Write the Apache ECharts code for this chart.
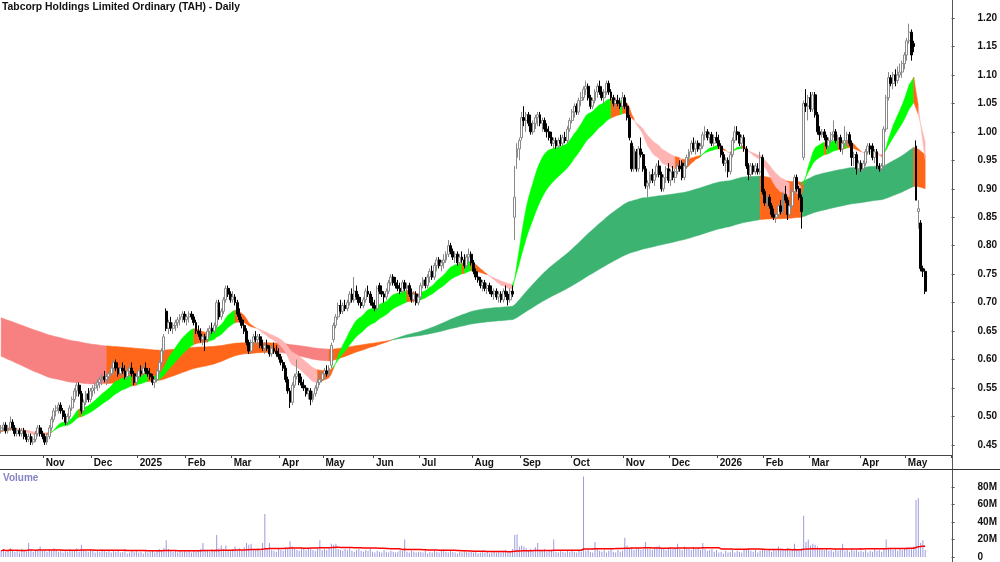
<!DOCTYPE html>
<html>
<head>
<meta charset="utf-8">
<title>TAH - Daily</title>
<script src="https://cdn.jsdelivr.net/npm/echarts@6/dist/echarts.min.js"></script>
<style>
  html, body { margin: 0; padding: 0; background: #fff; }
  #chart { width: 1000px; height: 562px; }
</style>
</head>
<body>
<div id="chart"></div>
<script>
// daily bars in cents: [open, high, low, close], one array per month
const oct24 = [[47.5,48.5,47,48],[48,49,47.5,48.5],[48.5,49,47,47.5],[47.5,48.5,47,48],[48,50,47.5,49],[49,49.5,47.5,48],[48,48.5,46.5,47],[47,48,46.5,47.5],[47.5,48,46.5,47],[47,48,46.5,47.5],[47.5,48,46,46.5],[46.5,47,45.5,46],[46,47,45.5,46.5],[46.5,47,45,45.5],[45.5,46.5,45,46],[46,47.5,45.5,47],[47,48.5,46.5,48],[48,48.5,46.5,47],[47,47.5,46,46.5]];
const nov24 = [[46.5,47,45,45.5],[45.5,47,45,46.5],[46.5,48.5,46,48],[48,50,47.5,49.5],[49.5,51.5,49,51],[51,52,50,51.5],[51.5,52.5,50.5,52],[52,52.5,50.5,51],[51,51.5,49.5,50],[50,50.5,48.5,49],[49,50.5,48.5,50],[50,52,49.5,51.5],[51.5,53.5,51,53],[53,55,52.5,54.5],[54.5,56,53.5,55.5],[55.5,56,53.5,54],[54,54.5,50.5,51],[51,53,50.5,52.5],[52.5,54.5,52,54],[54,55,52.5,53],[53,55,52.5,54.5]];
const dec24 = [[54.5,55.5,53.5,55],[55,56,54,55.5],[55.5,56.5,54.5,56],[56,57,55,56.5],[56.5,57.5,55.5,57],[57,58,56,56.5],[56.5,57.5,55.5,57],[57,58,56,57.5],[57.5,59,57,58.5],[58.5,60,57.5,59.5],[59.5,60,58,58.5],[58.5,59.5,57,57.5],[57.5,59,57,58.5],[58.5,59.5,57.5,58],[58,59,56.5,57],[57,58.5,56.5,58],[58,59,57.5,58.5],[58.5,59.5,57,57.5],[57.5,58,55.5,56],[56,57.5,55.5,57]];
const jan25 = [[57,58.5,56.5,58],[58,59,57,57.5],[57.5,59,57,58.5],[58.5,59.5,57.5,58],[58,58.5,57,57.5],[57.5,58.5,56.5,57],[57,57.5,55.5,56],[56,57,55,56.5],[56.5,58.5,56,58],[58,60,57.5,59.5],[59.5,62,59,61.5],[61.5,64.5,61,64],[68.5,69,65,65.5],[65.5,67,64.5,66.5],[66.5,67.5,65,65.5],[65.5,66.5,64.5,66],[66,67,65,66.5],[66.5,67.5,65.5,67],[67,68,66,67.5],[67.5,68.5,66.5,68],[68,68.5,66.5,67]];
const feb25 = [[67,68,66,67.5],[67.5,68.5,66.5,68],[68,68.5,67,67.5],[67.5,68,66,66.5],[66.5,67,64.5,65],[65,66,64,64.5],[64.5,65.5,63,63.5],[63.5,64.5,62.5,64],[64,64.5,61.5,63.5],[63.5,65.5,63,65],[65,66,64,65.5],[65.5,66.5,64.5,65],[65,66.5,64.5,66],[66,70.5,65.5,70],[70,70.5,67,67.5],[67.5,69,67,68.5],[68.5,71,68,70.5],[70.5,73,70,72.5],[72.5,73,71,71.5],[71.5,72,70,70.5]];
const mar25 = [[70.5,72,70,71],[71,71.5,69.5,70],[70,70.5,67.5,68],[68,69,66.5,67],[67,67.5,65.5,66],[66,67,64.5,65],[65,65.5,62.5,63],[63,63.5,61,61.5],[61.5,63.5,61,63],[63,64.5,62.5,64],[64,65,63,63.5],[63.5,64.5,62.5,64],[64,64.5,62,62.5],[62.5,63.5,61.5,62],[62,63,61,62.5],[62.5,63.5,61.5,62],[62,62.5,60.5,61],[61,62.5,60.5,62],[62,63,61,61.5],[61.5,62.5,60.5,61],[61,62,60,60.5]];
const apr25 = [[60.5,61,59,59.5],[59.5,60,58,58.5],[58.5,59,56,56.5],[56.5,57,54,54.5],[54.5,55,51.5,52.5],[52.5,56,52,55.5],[55.5,57.5,55,57],[57,60,56.5,57.5],[57.5,58,55.5,56],[56,57,55,55.5],[55.5,56.5,54.5,55],[55,55.5,53.5,54],[54,55,53,54.5],[54.5,55,52,53],[53,54.5,52.5,54],[54,55.5,53.5,55],[55,56.5,54.5,56],[56,57.5,55.5,56.5],[56.5,58,56,57.5]];
const may25 = [[57.5,58.5,56.5,58],[58,59,57,57.5],[57.5,59,57,58.5],[59,63,58.5,62.5],[63.5,66.5,63,66],[66,68,65.5,67.5],[67.5,70,67,69.5],[69.5,70.5,68,68.5],[68.5,70,68,69.5],[69.5,70.5,68.5,69],[69,70.5,68.5,70],[70,72,69.5,71.5],[71.5,72.5,70,70.5],[70.5,74.5,70,72],[72,73,70.5,71],[71,71.5,69.5,70],[70,71,69,69.5],[69.5,71,69,70.5],[70.5,72.5,70,72],[72,73,71,71.5],[71.5,72,69.5,70],[70,71,69,69.5]];
const jun25 = [[69.5,70.5,68.5,69],[69,73,68.5,72.5],[73,73.5,71.5,72],[72,73,71,71.5],[71.5,72,70,71],[71,72.5,70.5,72],[72,74,71.5,73.5],[73.5,75,73,74.5],[74.5,75,73,73.5],[73.5,74.5,72.5,73],[73,74,72,72.5],[72.5,73.5,71.5,72],[72,74,71.5,73.5],[73.5,74,72,72.5],[72.5,73.5,71.5,73],[73,73.5,71,71.5],[71.5,72.5,70,70.5],[70.5,72,70,71.5],[71.5,72,69.5,70],[70,71.5,69.5,71]];
const jul25 = [[71,73.5,70.5,73],[73,74.5,72.5,74],[74,74.5,72.5,73],[73,75,72.5,74.5],[74.5,76,73.5,75.5],[75.5,76.5,74,74.5],[74.5,77,74,76.5],[76.5,78,75.5,77.5],[77.5,78,76,76.5],[76.5,77.5,75.5,77],[77,78.5,76,77.5],[77.5,79,77,78.5],[78.5,81,78,80],[80,80.5,78.5,79],[79,79.5,77.5,78],[78,79,77,78.5],[78.5,79,76.5,77],[77,78.5,76.5,78],[78,79,77,77.5],[77.5,78.5,76,76.5],[76.5,78.5,76,78],[78,79.5,77,78.5],[78.5,79,76.5,77]];
const aug25 = [[77,77.5,75,75.5],[75.5,76,74,74.5],[74.5,75.5,73.5,74],[74,74.5,72.5,73],[73,74,72,73.5],[73.5,74,72,72.5],[72.5,73.5,71.5,73],[73,73.5,71.5,72],[72,73,71,71.5],[71.5,72.5,70.5,72],[72,72.5,70.5,71],[71,72,70,71.5],[71.5,72,70,70.5],[70.5,72.5,70,72],[72,73,71,71.5],[71.5,72,69.5,70.5],[70.5,72.5,70,72],[72,73,71,71.5],[85,94,81,88.5],[95.5,98,93.5,97],[97,99,95,98.5]];
const sep25 = [[99,103.5,98.5,102.5],[102.5,104.5,101,102],[102,103.5,100,103],[103,103.5,101,101.5],[101.5,103,99.5,100],[100,102,99.5,101.5],[101.5,103,100.5,102.5],[102.5,103.5,101,103],[103,103.5,101,101.5],[101.5,102.5,100,102],[102,102.5,100,100.5],[100.5,101.5,99,100],[100,101,98.5,99],[99,100,97.5,98],[98,99,97,98.5],[98.5,99,97,97.5],[97.5,99,97,98.5],[98.5,99.5,97.5,98],[98,99.5,97.5,99],[99,100,98,98.5],[98.5,101,98,100.5],[100.5,102.5,100,102]];
const oct25 = [[102,104,101.5,103.5],[103.5,105,102.5,104.5],[104.5,105,103,103.5],[103.5,106,103,105.5],[105.5,107,104.5,106],[106,108,105.5,107.5],[107.5,109,106.5,108],[108,108.5,105.5,106],[106,106.5,104,104.5],[104.5,106,104,105.5],[105.5,107.5,105,107],[107,108.5,106,108],[108,109,106.5,107],[107,108,105.5,106],[106,107.5,105,107],[107,109,106.5,108.5],[108.5,109,106.5,107],[107,107.5,105.5,106],[106,106.5,104.5,105],[105,106,104,105.5],[105.5,106.5,104.5,105],[105,106,104,104.5],[104.5,107,104,106]];
const nov25 = [[106,106.5,104,104.5],[104.5,105,102,102.5],[102.5,103,98.5,99],[98,98.5,93,93.5],[93.5,97.5,93,97],[96.5,97,93,93.5],[93.5,97.5,93,97],[97,99,95.5,96],[96,96.5,93,93.5],[93.5,94,90,90.5],[90.5,91.5,88.5,91],[91,93,90,92.5],[92.5,93.5,91,91.5],[91.5,93,90.5,92.5],[92.5,94.5,92,94],[94,95,92,92.5],[92.5,93,89.5,90],[90,92.5,89.5,92],[92,94,91,93.5],[93.5,94.5,91,91.5]];
const dec25 = [[91.5,93.5,90.5,93],[93,94,91.5,92],[92,93.5,91,93],[93,94.5,92.5,94],[94,95,93,93.5],[94.5,95,91.5,92],[92,94.5,91.5,94],[94,96,93.5,95.5],[95.5,97,94.5,96.5],[96.5,98.5,96,98],[98,99,96.5,97],[97,98.5,96,98],[98,98.5,96.5,97],[97,98,96,97.5],[97.5,100,97,99.5],[99.5,101,98.5,100],[100,100.5,98.5,99],[99,100,98,99.5],[99.5,100,97.5,98],[98,99.5,97.5,99],[99,100,98,98.5]];
const jan26 = [[98.5,99.5,97,97.5],[97.5,98,95.5,96],[96,96.5,94,94.5],[94.5,95.5,93,95],[95,95.5,92,93],[93,96.5,92.5,96],[96,99,95.5,98.5],[98.5,101,98,100],[100,101,98.5,99.5],[99.5,100,97.5,98],[98,99.5,97,99],[99,99.5,96.5,97],[97,97.5,93.5,94],[94,94.5,91.5,92.5],[92.5,94.5,92,94],[94,94.5,92.5,93],[93,94.5,92.5,94],[93.5,94.5,92.5,93],[93,96.5,92.5,95.5],[95.5,96,89,89.5]];
const feb26 = [[89.5,90,87,87.5],[87.5,89,86.5,88.5],[88.5,89,86.5,87],[87,87.5,85,85.5],[85.5,86.5,84.5,85],[85,86,84,85.5],[85.5,87.5,85,87],[87,88,85.5,86],[86,89.5,85.5,89],[89,90.5,87.5,88],[88,88.5,84.5,85.5],[85.5,87.5,85,87],[87,90,86.5,89.5],[89.5,92.5,89,92],[92,92.5,89.5,90],[90,90.5,88,88.5],[88.5,89,83,86],[95.5,105.5,95,105],[105,107.5,103.5,104.5],[104.5,106.5,102,106]];
const mar26 = [[106,107,103.5,104],[104,107,103.5,106.5],[106.5,107,102.5,103],[103,103.5,99.5,100],[100,101,98.5,99.5],[99.5,100.5,99,100],[100,100.5,98.5,99],[99,99.5,97,97.5],[97.5,99,96.5,98.5],[98.5,100,98,99.5],[99.5,102,99,100],[100,100.5,98,98.5],[98.5,99.5,97.5,99],[99,99.5,96.5,97],[97,98.5,96,98],[98,101,97.5,98.5],[98.5,100,97.5,99.5],[99.5,100,97.5,98],[98,98.5,94,95.5],[95.5,96.5,94,96],[96,96.5,92.5,93.5],[93.5,95,93,94.5]];
const apr26 = [[94.5,95,93,93.5],[93.5,95,93,94.5],[94.5,97,94,96.5],[96.5,98,96,97.5],[97.5,98,96,97],[97.5,98,95,95.5],[95.5,97,94.5,96.5],[96.5,97,93.5,94],[94,94.5,93,93.5],[93.5,94.5,93,94],[94,101,93.5,100.5],[100.5,106.5,100,106],[106,110.5,105.5,109.5],[109.5,110,108,108.5],[108.5,110.5,107.5,110],[110,111,108,109],[109,111.5,108.5,110],[110,112,109.5,110.5],[110.5,112.5,109.5,112],[112,114,111,113.5]];
const may26 = [[113.5,116.5,112.5,116],[116,119,115.5,117.5],[117.5,118,112.5,113.5],[115.5,116,114,115],[97.5,98.5,88,88],[86,88,83,86.5],[84,84.5,75.5,76],[76,76.5,74.5,75.5],[75.5,76,71.5,72]];

// daily volume, millions
const volOct24 = [7,9,6,8,10,7,6,8,5,9,7,6,16,8,6,7,9,12,7];
const volNov24 = [8,6,9,7,10,8,6,7,5,8,6,9,7,8,10,6,14,8,7,6,9];
const volDec24 = [7,5,8,6,9,7,6,8,5,7,6,8,5,6,9,4,5,7,6,8];
const volJan25 = [5,6,4,7,5,6,8,5,7,9,8,10,19,9,7,6,8,5,7,6,8];
const volFeb25 = [6,7,5,8,6,7,9,16,7,8,6,9,8,25,10,13,9,13,8,7];
const volMar25 = [9,12,8,10,7,11,16,14,15,9,8,10,7,16,49,9,16,8,7,6,9];
const volApr25 = [8,7,10,9,18,12,9,8,7,10,9,8,9,10,8,7,9,19,8];
const volMay25 = [9,8,10,15,14,15,9,8,7,9,8,10,7,6,8,9,7,6,8,7,9,6];
const volJun25 = [5,7,6,5,8,6,5,7,6,5,6,8,7,20,6,5,7,6,5,6];
const volJul25 = [6,5,7,4,6,5,7,6,5,8,9,6,5,7,6,5,4,6,5,7,6,5,6];
const volAug25 = [5,6,4,5,7,5,6,4,5,6,5,7,5,6,8,5,6,9,25,26,12];
const volSep25 = [13,12,10,8,9,7,11,16,8,7,9,6,8,7,20,6,5,7,6,5,8,6];
const volOct25 = [7,6,5,8,6,92,7,8,6,5,17,9,7,6,8,5,7,9,6,5,8,6,7];
const volNov25 = [22,13,9,11,8,9,10,8,9,17,10,9,8,11,12,13,9,10,8,9];
const volDec25 = [11,9,10,15,9,8,12,10,9,8,11,9,10,8,16,9,7,8,9,6,8];
const volJan26 = [5,6,4,7,5,6,8,5,7,6,5,9,8,10,7,6,8,5,7,9];
const volFeb26 = [8,7,9,6,8,7,12,9,8,7,10,8,9,15,8,7,10,47,17,20];
const volMar26 = [13,15,14,12,10,9,8,9,7,8,6,9,7,8,15,7,8,6,9,7,8,6];
const volApr26 = [7,6,8,5,7,6,9,7,8,6,10,20,10,9,8,10,7,9,8,10];
const volMay26 = [11,9,10,12,65,67,16,19,8];

// axis ticks
const priceTicks = [0.45,0.50,0.55,0.60,0.65,0.70,0.75,0.80,0.85,0.90,0.95,1.00,1.05,1.10,1.15,1.20];
const volumeTicks = [0,20,40,60,80];

// moving average ribbons: [fast, slow] periods and their levels at the left edge
const shortPeriods = [16, 32];
const shortStart = [0.472, 0.478];
const longPeriods = [130, 260];
const longStart = [0.608, 0.675];
// a ribbon only changes direction when its fast line moves more than this per bar
const shortTurn = 0.0003;
const longTurn = 0.0002;
const volumeAvgPeriod = 60;

// ASX calendar
const holidays = ['2024-12-25','2024-12-26','2025-01-01','2025-01-27','2025-04-18','2025-04-21','2025-04-25','2025-06-09','2025-12-25','2025-12-26','2026-01-01','2026-01-26','2026-04-03','2026-04-06'];
const slotCount = 415;
const monthNames = ['Jan','Feb','Mar','Apr','May','Jun','Jul','Aug','Sep','Oct','Nov','Dec'];

function tradingDays() {
  const out = [];
  const d = new Date(Date.UTC(2024, 9, 7));
  while (out.length < slotCount) {
    const key = d.toISOString().slice(0, 10);
    const wd = d.getUTCDay();
    if (wd !== 0 && wd !== 6 && holidays.indexOf(key) < 0) out.push(key);
    d.setUTCDate(d.getUTCDate() + 1);
  }
  return out;
}

const dates = tradingDays();
const tickLabels = dates.map((s, i) => {
  if (i === 0 || s.slice(5, 7) === dates[i - 1].slice(5, 7)) return '';
  const m = +s.slice(5, 7);
  return m === 1 ? s.slice(0, 4) : monthNames[m - 1];
});

const bars = [].concat(oct24, nov24, dec24, jan25, feb25, mar25, apr25, may25, jun25, jul25, aug25, sep25,
  oct25, nov25, dec25, jan26, feb26, mar26, apr26, may26);
const volumes = [].concat(volOct24, volNov24, volDec24, volJan25, volFeb25, volMar25, volApr25, volMay25,
  volJun25, volJul25, volAug25, volSep25, volOct25, volNov25, volDec25, volJan26, volFeb26, volMar26,
  volApr26, volMay26);

const closes = bars.map(b => b[3] / 100);
const candles = bars.map(b => [b[0] / 100, b[3] / 100, b[2] / 100, b[1] / 100]);

function ema(values, period, start) {
  const k = 2 / (period + 1);
  let e = start;
  return values.map(v => (e = e + k * (v - e)));
}

function sma(values, n) {
  return values.map((v, i) => {
    const w = values.slice(Math.max(0, i - n + 1), i + 1);
    return w.reduce((a, b) => a + b, 0) / w.length;
  });
}

// ribbon between a fast and a slow average, coloured per bar:
// 0 = fast above slow and rising, 2 = fast below slow and falling, 1 = anything else
function buildRibbon(periods, starts, turn, risingAtStart) {
  const fast = ema(closes, periods[0], starts[0]);
  const slow = ema(closes, periods[1], starts[1]);
  let up = risingAtStart;
  const state = fast.map((f, i) => {
    if (i > 0) {
      const d = f - fast[i - 1];
      if (up && d < -turn) up = false;
      else if (!up && d > turn) up = true;
    }
    if (f > slow[i] && up) return 0;
    if (f < slow[i] && !up) return 2;
    return 1;
  });
  // runs of one colour: [firstBar, lastBar, state]
  const runs = [];
  let s = 0;
  for (let i = 1; i < closes.length; i++) {
    if (i === closes.length - 1 || state[i + 1] !== state[i]) {
      runs.push([s, i, state[i]]);
      s = i;
    }
  }
  return { fast, slow, runs };
}

function ribbonRenderer(rb, palette) {
  return function (params, api) {
    const a = api.value(0), b = api.value(1);
    const pts = [];
    for (let i = a; i <= b; i++) pts.push(api.coord([i, rb.fast[i]]));
    for (let i = b; i >= a; i--) pts.push(api.coord([i, rb.slow[i]]));
    const col = palette[api.value(2)];
    return {
      type: 'polygon',
      shape: { points: pts },
      style: { fill: col, stroke: col, lineWidth: 0.5 }
    };
  };
}

const shortRibbon = buildRibbon(shortPeriods, shortStart, shortTurn, true);
const longRibbon = buildRibbon(longPeriods, longStart, longTurn, false);
const volumeAvg = sma(volumes, volumeAvgPeriod);

const isMonthStart = i => tickLabels[i] !== '';
const font = 'Liberation Sans, Arial, sans-serif';
const textDark = '#111';

const chart = echarts.init(document.getElementById('chart'), null, { renderer: 'canvas' });

const option = {
  animation: false,
  backgroundColor: '#fff',
  title: {
    text: 'Tabcorp Holdings Limited Ordinary (TAH) - Daily',
    left: 2, top: 2, padding: 0,
    textStyle: { fontSize: 10.4, fontWeight: 'bold', color: textDark, fontFamily: font }
  },
  grid: [
    { left: 0, right: 48, top: 0, height: 455 },
    { left: 0, right: 48, top: 469, height: 89 }
  ],
  xAxis: [
    {
      type: 'category', gridIndex: 0, data: dates, boundaryGap: true,
      axisLine: { show: true, lineStyle: { color: '#444', width: 1 } },
      axisTick: { show: true, interval: i => isMonthStart(i), length: 3, lineStyle: { color: '#444' } },
      axisLabel: {
        interval: i => isMonthStart(i),
        formatter: (v, i) => tickLabels[i],
        align: 'left', margin: 3, padding: [0, 0, 0, 1],
        fontSize: 10, fontWeight: 'bold', color: textDark, fontFamily: font
      },
      splitLine: { show: false }
    },
    {
      type: 'category', gridIndex: 1, data: dates, boundaryGap: true,
      axisLine: { show: false }, axisTick: { show: false }, axisLabel: { show: false },
      splitLine: { show: false }
    }
  ],
  yAxis: [
    {
      type: 'value', gridIndex: 0, position: 'right', min: 0.4324, max: 1.2316,
      axisLine: { show: false },
      axisTick: { show: true, length: 3, customValues: priceTicks, lineStyle: { color: '#555' } },
      axisLabel: {
        customValues: priceTicks, formatter: v => v.toFixed(2), margin: 26,
        fontSize: 10, fontWeight: 'bold', color: textDark, fontFamily: font
      },
      splitLine: { show: false }
    },
    {
      type: 'value', gridIndex: 1, position: 'right', min: 0, max: 100.56,
      axisLine: { show: false },
      axisTick: { show: true, length: 3, customValues: volumeTicks, lineStyle: { color: '#555' } },
      axisLabel: {
        customValues: volumeTicks, formatter: v => (v === 0 ? '0' : v + 'M'), margin: 26,
        fontSize: 10, fontWeight: 'bold', color: textDark, fontFamily: font
      },
      splitLine: { show: false }
    }
  ],
  graphic: [
    { type: 'line', shape: { x1: 952.5, y1: 0, x2: 952.5, y2: 562 }, style: { stroke: '#555', lineWidth: 1 }, z: 10 },
    { type: 'line', shape: { x1: 0, y1: 469.5, x2: 1000, y2: 469.5 }, style: { stroke: '#333', lineWidth: 1 }, z: 10 },
    {
      type: 'text', left: 3, top: 473, z: 10,
      style: { text: 'Volume', fontSize: 10, fontWeight: 'bold', fill: '#8484c4', fontFamily: font }
    }
  ],
  series: [
    {
      name: 'Long MAs', type: 'custom', xAxisIndex: 0, yAxisIndex: 0, z: 1,
      renderItem: ribbonRenderer(longRibbon, ['#3cb371', '#ff6619', '#f78080']),
      encode: { x: [0, 1] },
      data: longRibbon.runs
    },
    {
      name: 'Short MAs', type: 'custom', xAxisIndex: 0, yAxisIndex: 0, z: 2,
      renderItem: ribbonRenderer(shortRibbon, ['#00ff00', '#ff6619', '#ffb4b4']),
      encode: { x: [0, 1] },
      data: shortRibbon.runs
    },
    {
      name: 'TAH', type: 'candlestick', xAxisIndex: 0, yAxisIndex: 0, z: 3,
      barWidth: 2.4,
      itemStyle: { color: '#ffffff', color0: '#000000', borderColor: '#8a8a8a', borderColor0: '#000000', borderWidth: 1 },
      data: candles
    },
    {
      name: 'Volume', type: 'bar', xAxisIndex: 1, yAxisIndex: 1, barWidth: 1,
      itemStyle: { color: '#9a9ade' },
      data: volumes
    },
    {
      name: 'Volume avg', type: 'line', xAxisIndex: 1, yAxisIndex: 1, symbol: 'none', z: 4,
      lineStyle: { color: '#ff0000', width: 1.5 },
      data: volumeAvg
    }
  ]
};

chart.setOption(option);
</script>
</body>
</html>
